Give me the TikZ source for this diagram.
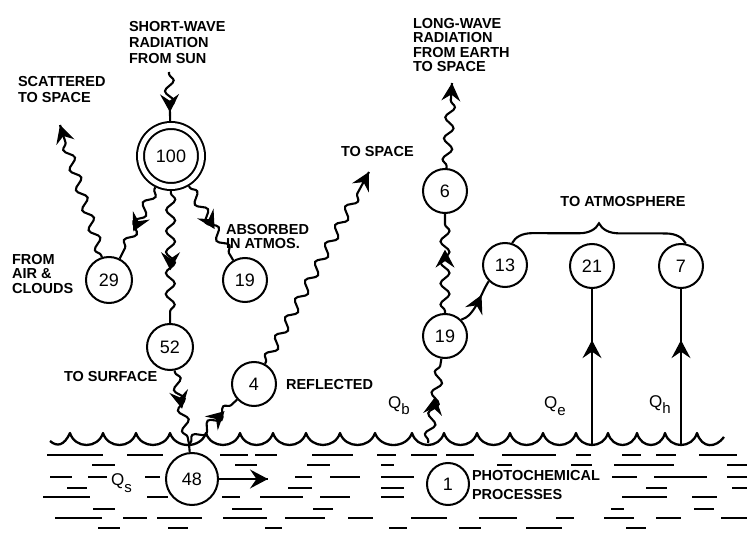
\documentclass[tikz,border=0pt]{standalone}
\usepackage{fontspec}
\setmainfont{Liberation Sans}
\usetikzlibrary{arrows.meta,decorations.pathmorphing,decorations.markings,decorations.pathreplacing}

% wavy radiation path with an arrow tip placed at a fraction of its length
\newcommand\radlink[4][]{%
  \draw[wavy,#1] (#2) -- (#3);
  \path[midarrow=#4] (#2) -- (#3);
}

\begin{document}
\begin{tikzpicture}[x=1pt, y=-1pt, line width=2.1pt,
  >={Stealth[length=18pt,width=19pt,inset=6.5pt]},
  flux/.style={circle, draw, line width=2pt, inner sep=0pt, minimum size=44pt,
    font=\fontsize{18}{18}\selectfont},
  lbl/.style={inner sep=0pt, font=\fontsize{14.5}{16}\selectfont\bfseries, align=left},
  qlbl/.style={inner sep=0pt, anchor=base west, font=\fontsize{17}{17}\selectfont},
  wavy/.style={decorate, decoration={snake, segment length=21pt, amplitude=4.5pt,
    pre length=2pt, post length=3pt}},
  endwavy/.style={decorate, decoration={snake, segment length=21pt, amplitude=4.5pt,
    pre length=2pt, post length=16pt}},
  midarrow/.style={postaction={decorate, decoration={markings,
    mark=at position #1 with {\arrow[line width=1.2pt]{>}}}}},
  surface/.style={line width=2.3pt, line join=round},
  water/.style={line width=1.2pt}]
\useasboundingbox (0,0) rectangle (748,537);

% ---- water surface and body ----
\draw[surface] (50,441) .. controls (57,447) and (64,446) .. (70,433)
  \foreach \a/\b in {70/103,103/136,136/170,170/206,206/240,240/273,273/306,306/340,
                     340/375,375/412,412/444,444/477,477/510,510/543,543/576,576/608,
                     608/637,637/665,665/697}
  { .. controls ({\a+0.15*(\b-\a)},449) and ({\b-0.15*(\b-\a)},449) .. (\b,433) }
  .. controls (702,449) and (716,448) .. (724,437);

\foreach \y/\xa/\xb in {
  455/47/103, 455/127/163, 455/220/248, 455/255/277, 455/312/353, 455/377/396,
  455/411/437, 455/446/474, 455/502/556, 455/576/591, 455/622/641, 455/656/676, 455/699/737,
  465/92/115, 465/235/257, 465/307/330, 465/381/394, 465/497/512, 465/571/592,
  465/614/674, 465/727/747,
  477/50/72, 477/88/107, 477/145/160, 477/295/312, 477/330/360, 477/381/414,
  477/612/637, 477/654/707, 477/727/747,
  488/67/87, 488/288/312, 488/381/404, 488/646/667, 488/732/747,
  497/43/90, 497/147/168, 497/222/240, 497/260/303, 497/320/350, 497/381/404,
  497/622/667, 497/692/717,
  509/93/115, 509/232/262, 509/313/333, 509/611/624, 509/694/714,
  518/55/102, 518/123/147, 518/157/202, 518/223/267, 518/285/325, 518/348/373,
  518/411/447, 518/479/517, 518/556/574, 518/604/634, 518/656/681, 518/721/747,
  528/98/120, 528/168/188, 528/265/282, 528/389/407, 528/459/481, 528/526/562, 528/626/646}
  \draw[water] (\xa,\y) -- (\xb,\y);

% ---- energy nodes ----
\node[circle, draw, double, double distance=5pt, line width=2pt, inner sep=0pt,
      minimum size=61pt, outer sep=4.5pt, font=\fontsize{18}{18}\selectfont] (sun) at (171,156) {100};
\node[flux, minimum size=46pt] (n29) at (109,280) {29};
\node[flux] (n19a) at (245,280) {19};
\node[flux, minimum size=46pt] (n52) at (170,347) {52};
\node[flux] (n4) at (254,384) {4};
\node[flux, minimum size=52pt, fill=white] (n48) at (192,479) {48};
\node[flux, minimum size=42pt, fill=white] (n1) at (448,484) {1};
\node[flux] (n19b) at (445,336) {19};
\node[flux] (n6) at (445,191) {6};
\node[flux] (n13) at (505,265) {13};
\node[flux] (n21) at (592,266) {21};
\node[flux] (n7) at (681,266) {7};

% ---- free ends ----
\coordinate (sunin) at (169,72);
\coordinate (scat) at (60,125);
\coordinate (junc) at (189,444);
\coordinate (refl) at (369,172);
\coordinate (hright) at (268,479);
\coordinate (qb) at (428,443);
\coordinate (lwout) at (452,83);
\coordinate (s21) at (592,444);
\coordinate (s7) at (681,444);

% ---- short-wave paths ----
\radlink{sunin}{sun}{0.82}
\radlink{sun}{n29}{0.62}
\radlink[endwavy]{n29}{scat}{1}
\radlink{sun}{n52}{0.6}
\radlink{sun}{n19a}{0.58}
\radlink{n52}{junc}{0.52}
\draw (junc) -- (n48);
\radlink{junc}{n4}{0.74}
\radlink[endwavy]{n4}{refl}{1}
\draw[midarrow=1] (n48) -- (hright);

% ---- long-wave and turbulent fluxes ----
\radlink{qb}{n19b}{0.55}
\radlink{n19b}{n6}{0.64}
\radlink[endwavy]{n6}{lwout}{1}
\draw[midarrow=0.68] (n19b.45) .. controls +(14,-4) and +(-8,12) .. (n13.225);
\draw[midarrow=0.67] (s21) -- (n21);
\draw[midarrow=0.67] (s7) -- (n7);
\draw[decorate, decoration={brace, amplitude=20pt}] (n13.72) -- (n7.78);

% ---- labels ----
\node[lbl, anchor=north west] (tsun) at (128,20) {SHORT-WAVE\\RADIATION\\FROM SUN};
\node[lbl, anchor=north west] (tscat) at (17,75) {SCATTERED\\TO SPACE};
\node[lbl, anchor=north west, font=\fontsize{14.5}{14.5}\selectfont\bfseries] (tair) at (11,253) {FROM\\AIR \&\\CLOUDS};
\node[lbl, anchor=north west, font=\fontsize{14.5}{14}\selectfont\bfseries] (tabs) at (225,223) {ABSORBED\\IN ATMOS.};
\node[lbl, anchor=west] (tsurf) at (63,377) {TO SURFACE};
\node[lbl, anchor=west] (trefl) at (285,385) {REFLECTED};
\node[lbl, anchor=west] (tspace) at (340,152) {TO SPACE};
\node[lbl, anchor=north west, font=\fontsize{14.5}{14.5}\selectfont\bfseries] (tlong) at (412,17) {LONG-WAVE\\RADIATION\\FROM EARTH\\TO SPACE};
\node[lbl] (tatm) at (623,202) {TO ATMOSPHERE};
\node[lbl, anchor=north west, font=\fontsize{14.5}{19}\selectfont\bfseries] (tphoto) at (471,469) {PHOTOCHEMICAL\\PROCESSES};

\node[qlbl] (qs) at (110,486) {Q\raisebox{-6pt}{\fontsize{15}{15}\selectfont s}};
\node[qlbl] (qbl) at (387,409) {Q\raisebox{-6pt}{\fontsize{15}{15}\selectfont b}};
\node[qlbl] (qe) at (543,409) {Q\raisebox{-7pt}{\fontsize{15}{15}\selectfont e}};
\node[qlbl] (qh) at (648,408) {Q\raisebox{-6pt}{\fontsize{15}{15}\selectfont h}};
\end{tikzpicture}
\end{document}
